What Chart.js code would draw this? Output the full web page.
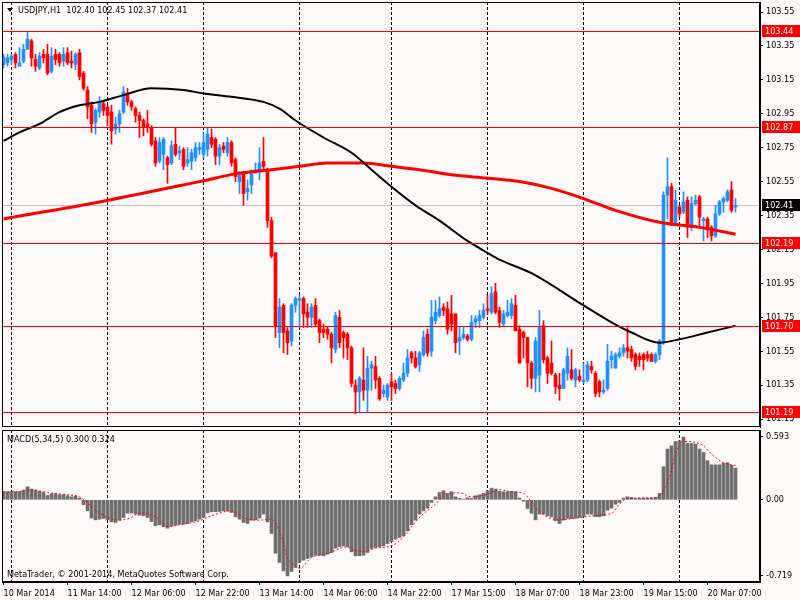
<!DOCTYPE html>
<html>
<head>
<meta charset="utf-8">
<script src="https://cdn.jsdelivr.net/npm/chart.js@4.4.0/dist/chart.umd.min.js"></script>
<style>
  body { margin: 0; background: #fffafa; }
  canvas { position: absolute; left: 0; }
  #precio { top: 0; }
  #macd { top: 428px; }
</style>
</head>
<body>
<canvas id="precio" width="800" height="428"></canvas>
<canvas id="macd" width="800" height="172"></canvas>
<script>
// Velas USDJPY H1 (apertura, máximo, mínimo, cierre)
const aperturas = [
  103.24,103.25,103.27,103.30,103.23,103.26,103.33,103.38,103.27,103.22,
  103.30,103.30,103.20,103.30,103.30,103.26,103.31,103.26,103.24,103.31,
  103.19,103.09,103.00,102.90,102.96,103.01,102.99,102.96,102.86,102.89,
  102.96,103.07,103.02,102.98,102.94,102.91,102.89,102.87,102.79,102.67,
  102.71,102.69,102.66,102.77,102.72,102.74,102.66,102.67,102.69,102.74,
  102.71,102.74,102.81,102.80,102.70,102.76,102.72,102.78,102.68,102.55,
  102.60,102.49,102.53,102.60,102.61,102.67,102.62,102.32,102.13,101.66,
  101.82,101.67,101.61,101.82,101.85,101.86,101.78,101.75,101.82,101.73,
  101.68,101.68,101.65,101.56,101.75,101.66,101.65,101.57,101.35,101.31,
  101.38,101.32,101.45,101.46,101.39,101.30,101.28,101.37,101.36,101.33,
  101.38,101.42,101.54,101.51,101.47,101.53,101.65,101.55,101.73,101.76,
  101.81,101.80,101.77,101.77,101.61,101.63,101.64,101.62,101.72,101.73,
  101.75,101.80,101.78,101.90,101.79,101.71,101.76,101.76,101.82,101.68,
  101.66,101.63,101.48,101.39,101.41,101.70,101.51,101.48,101.41,101.35,
  101.33,101.42,101.44,101.38,101.40,101.37,101.38,101.46,101.42,101.37,
  101.31,101.33,101.50,101.45,101.52,101.54,101.57,101.56,101.53,101.52,
  101.53,101.53,101.53,101.49,101.53,101.60,102.47,102.52,102.31,102.40,
  102.37,102.44,102.28,102.42,102.46,102.32,102.33,102.28,102.23,102.36,
  102.43,102.44,102.50,102.40
];
const maximos = [
  103.30,103.30,103.30,103.31,103.34,103.36,103.43,103.39,103.30,103.31,
  103.33,103.36,103.34,103.33,103.31,103.34,103.34,103.32,103.31,103.33,
  103.20,103.11,103.02,102.98,103.05,103.02,103.00,103.00,102.93,102.97,
  103.11,103.10,103.03,102.99,102.96,102.92,102.97,102.88,102.81,102.81,
  102.81,102.70,102.79,102.87,102.76,102.75,102.75,102.74,102.78,102.78,
  102.84,102.87,102.86,102.81,102.77,102.78,102.81,102.79,102.69,102.61,
  102.61,102.56,102.62,102.66,102.75,102.81,102.63,102.34,102.13,101.86,
  101.83,101.69,101.83,101.87,101.88,101.87,101.83,101.83,101.86,101.74,
  101.71,101.69,101.66,101.78,101.79,101.67,101.66,101.58,101.38,101.40,
  101.57,101.52,101.49,101.52,101.40,101.35,101.36,101.42,101.38,101.40,
  101.48,101.56,101.55,101.55,101.55,101.67,101.68,101.85,101.85,101.87,
  101.83,101.84,101.88,101.77,101.69,101.69,101.65,101.76,101.76,101.79,
  101.83,101.88,101.93,101.95,101.81,101.79,101.85,101.86,101.88,101.70,
  101.67,101.63,101.49,101.63,101.79,101.73,101.52,101.61,101.42,101.42,
  101.45,101.57,101.56,101.45,101.44,101.48,101.49,101.49,101.43,101.38,
  101.38,101.59,101.55,101.54,101.57,101.59,101.69,101.58,101.54,101.54,
  101.54,101.55,101.54,101.54,101.62,102.49,102.69,102.54,102.50,102.41,
  102.49,102.46,102.46,102.47,102.47,102.34,102.34,102.29,102.41,102.44,
  102.46,102.50,102.55,102.45
];
const minimos = [
  103.22,103.23,103.24,103.22,103.23,103.25,103.33,103.23,103.20,103.21,
  103.25,103.18,103.19,103.24,103.23,103.23,103.24,103.22,103.21,103.15,
  103.09,102.92,102.84,102.83,102.93,102.94,102.88,102.77,102.83,102.84,
  102.95,103.00,102.97,102.90,102.81,102.82,102.84,102.76,102.64,102.66,
  102.62,102.54,102.65,102.70,102.68,102.62,102.64,102.62,102.67,102.71,
  102.69,102.70,102.75,102.65,102.65,102.72,102.70,102.64,102.55,102.48,
  102.41,102.44,102.48,102.60,102.56,102.62,102.28,102.10,101.63,101.57,
  101.54,101.53,101.58,101.78,101.69,101.69,101.69,101.69,101.70,101.60,
  101.63,101.62,101.48,101.54,101.57,101.51,101.50,101.34,101.18,101.19,
  101.26,101.19,101.32,101.33,101.26,101.28,101.26,101.26,101.30,101.32,
  101.37,101.40,101.48,101.45,101.43,101.52,101.52,101.52,101.71,101.75,
  101.76,101.65,101.67,101.54,101.53,101.62,101.61,101.61,101.69,101.69,
  101.74,101.77,101.77,101.77,101.69,101.70,101.75,101.74,101.67,101.48,
  101.51,101.34,101.33,101.31,101.31,101.48,101.36,101.41,101.30,101.26,
  101.33,101.38,101.38,101.34,101.37,101.36,101.37,101.42,101.28,101.28,
  101.30,101.32,101.45,101.45,101.51,101.52,101.51,101.49,101.44,101.46,
  101.44,101.49,101.49,101.48,101.50,101.59,102.33,102.29,102.30,102.34,
  102.36,102.22,102.26,102.41,102.28,102.20,102.22,102.20,102.22,102.35,
  102.37,102.43,102.37,102.37
];
const cierres = [
  103.28,103.28,103.29,103.25,103.25,103.33,103.39,103.28,103.23,103.29,
  103.28,103.19,103.29,103.27,103.25,103.30,103.25,103.25,103.30,103.17,
  103.10,102.99,102.89,102.97,103.02,102.97,102.94,102.85,102.89,102.95,
  103.08,103.02,102.99,102.94,102.91,102.87,102.87,102.77,102.66,102.78,
  102.80,102.65,102.76,102.71,102.73,102.64,102.68,102.72,102.75,102.75,
  102.78,102.83,102.77,102.70,102.75,102.74,102.78,102.66,102.58,102.59,
  102.48,102.51,102.61,102.62,102.66,102.64,102.32,102.11,101.70,101.81,
  101.66,101.60,101.82,101.86,101.86,101.77,101.75,101.81,101.71,101.66,
  101.66,101.65,101.57,101.76,101.60,101.63,101.57,101.36,101.31,101.39,
  101.32,101.45,101.47,101.38,101.27,101.32,101.35,101.34,101.33,101.39,
  101.42,101.51,101.51,101.46,101.54,101.63,101.54,101.75,101.78,101.80,
  101.79,101.68,101.71,101.60,101.63,101.65,101.62,101.72,101.74,101.76,
  101.79,101.79,101.89,101.78,101.72,101.77,101.78,101.83,101.67,101.48,
  101.63,101.48,101.39,101.61,101.69,101.50,101.42,101.42,101.34,101.33,
  101.44,101.52,101.39,101.44,101.38,101.38,101.47,101.44,101.30,101.31,
  101.32,101.49,101.52,101.53,101.54,101.57,101.55,101.51,101.46,101.50,
  101.50,101.51,101.49,101.53,101.61,102.47,102.52,102.31,102.44,102.36,
  102.43,102.28,102.42,102.44,102.34,102.33,102.27,102.23,102.36,102.43,
  102.45,102.49,102.38,102.41
];

// Medias móviles (barra, precio)
const mediaNegraBarras = [0,4,9,14,19,24,30,37,45,50,57,65,69,73,80,87,92,97,103,109,116,121,124,132,145,152,157,164,169,176,183];
const mediaNegraValores = [102.79,102.84,102.89,102.96,103.00,103.02,103.06,103.10,103.09,103.07,103.05,103.02,102.98,102.91,102.81,102.72,102.62,102.52,102.41,102.32,102.20,102.13,102.09,102.01,101.82,101.72,101.66,101.60,101.62,101.66,101.70];
const mediaRojaBarras = [0,24,49,59,67,74,81,90,97,104,112,121,129,137,145,153,164,174,183];
const mediaRojaValores = [102.33,102.43,102.55,102.60,102.62,102.64,102.66,102.66,102.64,102.62,102.59,102.57,102.55,102.51,102.45,102.38,102.31,102.28,102.24];

// MACD(5,34,5): histograma y línea de señal
const macdValores = [
  0.076,0.076,0.076,0.076,0.076,0.091,0.123,0.101,0.091,0.079,
  0.069,0.041,0.057,0.057,0.047,0.047,0.038,0.028,0.035,0.016,
  -0.047,-0.104,-0.173,-0.189,-0.183,-0.176,-0.189,-0.208,-0.214,-0.192,
  -0.167,-0.126,-0.126,-0.135,-0.145,-0.151,-0.167,-0.205,-0.246,-0.236,
  -0.255,-0.268,-0.249,-0.239,-0.230,-0.230,-0.224,-0.208,-0.198,-0.183,
  -0.167,-0.123,-0.113,-0.113,-0.110,-0.104,-0.104,-0.120,-0.161,-0.183,
  -0.214,-0.224,-0.192,-0.189,-0.173,-0.135,-0.208,-0.318,-0.504,-0.592,
  -0.671,-0.719,-0.677,-0.639,-0.592,-0.570,-0.554,-0.539,-0.523,-0.523,
  -0.529,-0.513,-0.498,-0.457,-0.444,-0.435,-0.444,-0.491,-0.529,-0.529,
  -0.523,-0.498,-0.460,-0.450,-0.444,-0.435,-0.413,-0.394,-0.372,-0.356,
  -0.340,-0.293,-0.236,-0.192,-0.135,-0.104,-0.079,-0.025,0.028,0.069,
  0.085,0.060,0.076,0.028,0.013,0.006,0.019,0.013,0.038,0.047,
  0.060,0.085,0.110,0.101,0.079,0.076,0.076,0.079,0.076,0.016,
  -0.013,-0.082,-0.126,-0.189,-0.135,-0.135,-0.151,-0.161,-0.198,-0.224,
  -0.192,-0.176,-0.176,-0.173,-0.167,-0.158,-0.135,-0.135,-0.158,-0.161,
  -0.151,-0.098,-0.079,-0.041,-0.025,0.016,0.028,0.022,0.013,0.016,
  0.016,0.016,0.016,0.022,0.060,0.312,0.479,0.510,0.551,0.558,
  0.593,0.532,0.532,0.526,0.479,0.447,0.370,0.330,0.330,0.330,
  0.345,0.350,0.325,0.300
];
const senalBarras = [0,4,7,11,16,19,21,23,26,29,32,34,38,41,44,49,52,57,61,64,67,69,71,73,74,77,81,86,87,90,93,97,99,104,108,111,114,117,121,124,127,130,133,135,139,144,149,152,154,156,159,163,165,167,168,170,173,175,177,180,183];
const senalValores = [
  0.076,0.076,0.095,0.069,0.047,0.028,-0.025,-0.098,-0.167,-0.192,
  -0.167,-0.126,-0.161,-0.252,-0.236,-0.198,-0.151,-0.104,-0.183,-0.192,
  -0.183,-0.293,-0.545,-0.624,-0.646,-0.545,-0.507,-0.444,-0.466,-0.488,
  -0.457,-0.435,-0.387,-0.167,-0.041,0.060,0.066,0.028,0.054,0.095,
  0.076,0.060,-0.072,-0.142,-0.189,-0.167,-0.145,-0.129,-0.041,0.013,
  0.016,0.022,0.085,0.274,0.432,0.551,0.542,0.510,0.432,0.350,
  0.324
];

// Líneas horizontales y ejes
const nivelesHorizontales = [103.44, 102.87, 102.19, 101.70, 101.19];
const precioActual = 102.41;
const ticksPrecio = [103.55,103.35,103.15,102.95,102.75,102.55,102.35,102.15,101.95,101.75,101.55,101.35,101.15];
const ticksMacd = [0.593, 0, -0.719];
const etiquetasMacd = ['0.593', '0.00', '-0.719'];
const etiquetasTiempo = ['10 Mar 2014','11 Mar 14:00','12 Mar 06:00','12 Mar 22:00','13 Mar 14:00','14 Mar 06:00','14 Mar 22:00','17 Mar 15:00','18 Mar 07:00','18 Mar 23:00','19 Mar 15:00','20 Mar 07:00'];
const barrasTiempo = [0,16,32,48,64,80,96,112,128,144,160,176];
const barrasRejilla = [2,26,50,74,97,121,145,169];

const FUENTE = '"DejaVu Sans Condensed", "DejaVu Sans", sans-serif';
const AZUL = '#1e90ff';
const ROJO = '#ff0000';
Chart.defaults.font.family = FUENTE;
Chart.defaults.font.size = 9;
Chart.defaults.color = '#000';

const colores = cierres.map((c, i) => c >= aperturas[i] ? AZUL : ROJO);
const cuerpos = aperturas.map((o, i) => ({ x: i, y: [o, cierres[i]] }));
const mechas = maximos.map((h, i) => ({ x: i, y: [minimos[i], h] }));
const ultimo = cierres.length - 1;

// Rejilla punteada vertical y marco negro
function dibujarRejilla(chart) {
    const { ctx, chartArea: a, scales: { x } } = chart;
    ctx.save();
    ctx.strokeStyle = '#000';
    ctx.lineWidth = 1;
    ctx.setLineDash([3, 2]);
    barrasRejilla.forEach(b => {
        const px = Math.floor(x.getPixelForValue(b)) + 0.5;
        ctx.beginPath();
        ctx.moveTo(px, a.top);
        ctx.lineTo(px, a.bottom);
        ctx.stroke();
    });
    ctx.restore();
}
function dibujarMarco(chart) {
    const { ctx, chartArea: a } = chart;
    ctx.save();
    ctx.strokeStyle = '#000';
    ctx.lineWidth = 1;
    ctx.strokeRect(Math.round(a.left) + 0.5, Math.round(a.top) + 0.5,
        Math.round(a.right - a.left) - 1, Math.round(a.bottom - a.top) - 1);
    ctx.restore();
}
function lineaHorizontal(ctx, a, py, color) {
    const yy = Math.round(py) + 0.5;
    ctx.strokeStyle = color;
    ctx.lineWidth = 1;
    ctx.beginPath();
    ctx.moveTo(a.left, yy);
    ctx.lineTo(a.right, yy);
    ctx.stroke();
}
function etiquetaEje(ctx, a, py, texto, fondo) {
    ctx.fillStyle = fondo;
    ctx.fillRect(a.right + 2, Math.round(py) - 6, 38, 12);
    ctx.fillStyle = '#fff';
    ctx.textBaseline = 'middle';
    ctx.textAlign = 'left';
    ctx.fillText(texto, a.right + 5, Math.round(py) + 0.5);
}

const decoracionPrecio = {
    id: 'decoracionPrecio',
    beforeDatasetsDraw(chart) {
        const { ctx, chartArea: a, scales: { y } } = chart;
        dibujarRejilla(chart);
        ctx.save();
        lineaHorizontal(ctx, a, y.getPixelForValue(precioActual), '#c0c0c0');
        ctx.restore();
    },
    afterDatasetsDraw(chart) {
        const { ctx, chartArea: a, scales: { y } } = chart;
        ctx.save();
        nivelesHorizontales.forEach(v => lineaHorizontal(ctx, a, y.getPixelForValue(v), ROJO));
        ctx.restore();
    },
    afterDraw(chart) {
        const { ctx, chartArea: a, scales: { y } } = chart;
        dibujarMarco(chart);
        ctx.save();
        ctx.font = '9px ' + FUENTE;
        nivelesHorizontales.forEach(v => etiquetaEje(ctx, a, y.getPixelForValue(v), v.toFixed(2), ROJO));
        etiquetaEje(ctx, a, y.getPixelForValue(precioActual), precioActual.toFixed(2), '#000');
        // Cabecera con símbolo y última vela
        ctx.fillStyle = '#000';
        ctx.beginPath();
        ctx.moveTo(7, 8); ctx.lineTo(13, 8); ctx.lineTo(10, 12); ctx.closePath();
        ctx.fill();
        ctx.textBaseline = 'middle';
        ctx.textAlign = 'left';
        ctx.fillText('USDJPY,H1  ' + [aperturas[ultimo], maximos[ultimo], minimos[ultimo], cierres[ultimo]]
            .map(v => v.toFixed(2)).join(' '), 18, 11);
        ctx.restore();
    }
};

const decoracionMacd = {
    id: 'decoracionMacd',
    beforeDatasetsDraw(chart) { dibujarRejilla(chart); },
    afterDraw(chart) {
        const { ctx } = chart;
        dibujarMarco(chart);
        ctx.save();
        ctx.font = '9px ' + FUENTE;
        ctx.fillStyle = '#000';
        ctx.textBaseline = 'middle';
        ctx.textAlign = 'left';
        ctx.fillText('MACD(5,34,5) ' + macdValores[ultimo].toFixed(3) + ' ' +
            senalValores[senalValores.length - 1].toFixed(3), 7, 12);
        ctx.fillText('MetaTrader, \u00a9 2001-2014, MetaQuotes Software Corp.', 7, 147);
        ctx.restore();
    }
};

function ejeY(min, max, ticks, formato) {
    return {
        position: 'right', min: min, max: max,
        afterBuildTicks: s => { s.ticks = ticks.map(v => ({ value: v })); },
        afterFit: s => { s.width = 40; s.paddingTop = 0; s.paddingBottom = 0; },
        ticks: { callback: formato, padding: 3, color: '#000' },
        grid: { drawOnChartArea: false, drawTicks: true, tickLength: 3, color: '#000' },
        border: { display: true, color: '#000' }
    };
}

// Gráfico de precios
new Chart(document.getElementById('precio'), {
    type: 'bar',
    data: {
        datasets: [
            { type: 'line', data: mediaNegraBarras.map((b, k) => ({ x: b, y: mediaNegraValores[k] })),
              borderColor: '#000', borderWidth: 2, pointRadius: 0, cubicInterpolationMode: 'monotone', order: 0 },
            { type: 'line', data: mediaRojaBarras.map((b, k) => ({ x: b, y: mediaRojaValores[k] })),
              borderColor: ROJO, borderWidth: 3, pointRadius: 0, cubicInterpolationMode: 'monotone', order: 1 },
            { type: 'bar', data: cuerpos, backgroundColor: colores, barThickness: 3,
              minBarLength: 1, grouped: false, order: 2 },
            { type: 'bar', data: mechas, backgroundColor: colores, barThickness: 1,
              grouped: false, order: 3 }
        ]
    },
    options: {
        responsive: false, animation: false, devicePixelRatio: 1,
        layout: { padding: { left: 2, top: 2, right: 0, bottom: 1 } },
        plugins: { legend: { display: false }, tooltip: { enabled: false } },
        scales: {
            x: { type: 'linear', min: -0.375, max: 189.125, offset: false, display: false },
            y: ejeY(101.103, 103.609, ticksPrecio, v => v.toFixed(2))
        }
    },
    plugins: [decoracionPrecio]
});

// Panel MACD
new Chart(document.getElementById('macd'), {
    type: 'bar',
    data: {
        datasets: [
            { type: 'line', data: senalBarras.map((b, k) => ({ x: b, y: senalValores[k] })),
              borderColor: ROJO, borderWidth: 1, borderDash: [2, 2], pointRadius: 0,
              cubicInterpolationMode: 'monotone', order: 0 },
            { type: 'bar', data: macdValores.map((v, i) => ({ x: i, y: v })),
              backgroundColor: '#6e6e6e', barThickness: 3, grouped: false, order: 1 }
        ]
    },
    options: {
        responsive: false, animation: false, devicePixelRatio: 1,
        layout: { padding: { left: 2, top: 2, right: 0, bottom: 0 } },
        plugins: { legend: { display: false }, tooltip: { enabled: false } },
        scales: {
            x: {
                type: 'linear', min: -0.375, max: 189.125, offset: false, position: 'bottom',
                afterBuildTicks: s => { s.ticks = barrasTiempo.map(v => ({ value: v })); },
                afterFit: s => { s.height = 18; s.paddingLeft = 0; s.paddingRight = 0; },
                ticks: { callback: (v, k) => etiquetasTiempo[k], align: 'start', maxRotation: 0,
                         autoSkip: false, padding: 3, color: '#000' },
                grid: { drawOnChartArea: false, tickLength: 3, color: '#000', offset: false },
                border: { display: true, color: '#000' }
            },
            y: ejeY(-0.776, 0.659, ticksMacd, (v, k) => etiquetasMacd[k])
        }
    },
    plugins: [decoracionMacd]
});
</script>
</body>
</html>
